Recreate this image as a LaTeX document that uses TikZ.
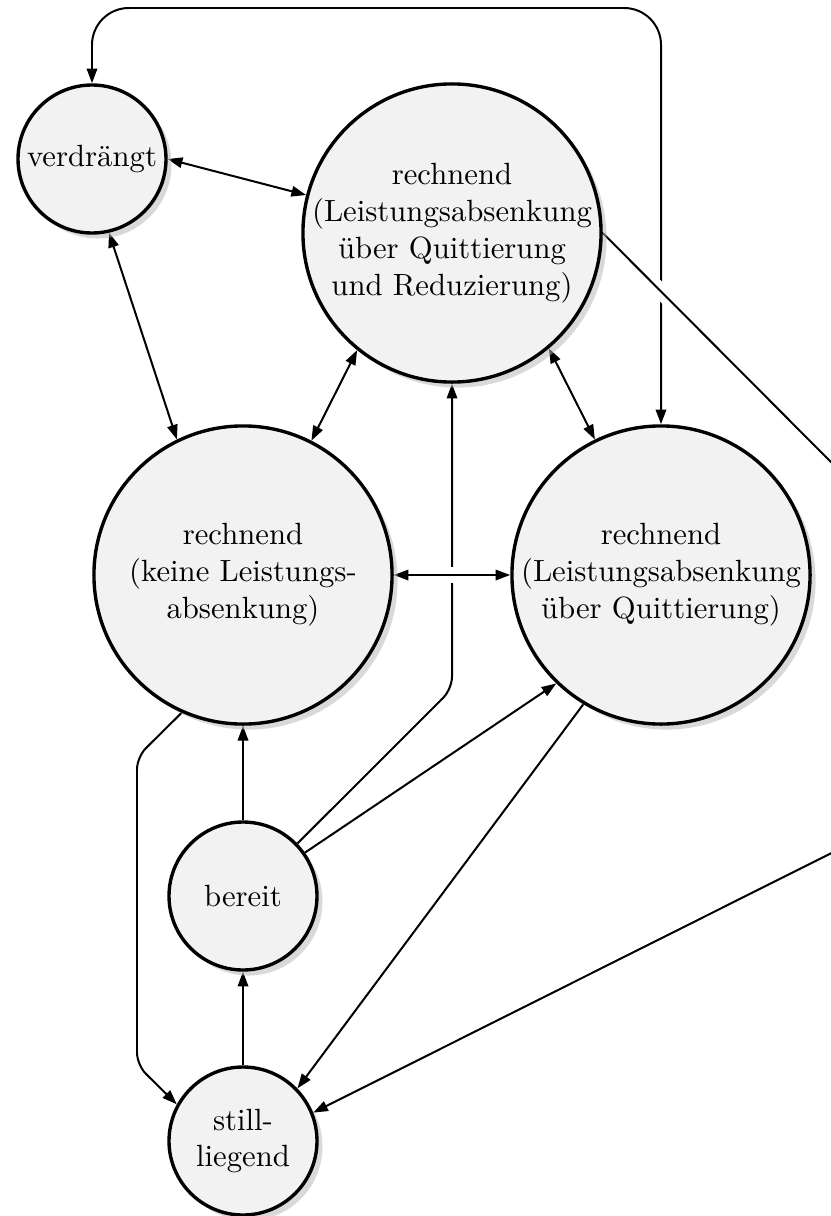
\documentclass[tikz,border=0pt]{standalone}
\usetikzlibrary{arrows.meta,shadows,backgrounds}
\definecolor{cfill}{HTML}{F2F2F2}
\definecolor{cshadow}{HTML}{B4B4B4}
\begin{document}
\begin{tikzpicture}[x=0.3257pt,y=-0.3257pt,
  >={Triangle[length=4.8pt,width=3.4pt]},
  conn/.style={line width=0.65pt,draw=black},
  halo/.style={preaction={draw=white,line width=5pt,-}},
  stbig/.style={circle,draw=black,line width=1.1pt,fill=cfill,minimum size=97.1pt,inner sep=0pt,
    drop shadow={shadow xshift=1.8pt,shadow yshift=-1.8pt,fill=cshadow}},
  stsmall/.style={stbig,minimum size=48.2pt},
  lbl/.style={align=center,font=\fontsize{10}{12}\selectfont,inner sep=0pt}
]
\useasboundingbox (0,0) rectangle (831,1216);
\node[stsmall,label={[lbl]center:verdrängt}] (V) at (92,159) {};
\node[stbig,label={[lbl]center:{rechnend\\(Leistungsabsenkung\\über Quittierung\\und Reduzierung)}}] (T) at (452,233) {};
\node[stbig,label={[lbl]center:{rechnend\\(keine Leistungs-\\absenkung)}}] (L) at (243,575) {};
\node[stbig,label={[lbl]center:{rechnend\\(Leistungsabsenkung\\über Quittierung)}}] (R) at (661,575) {};
\node[stsmall,label={[lbl]center:bereit}] (B) at (243,896) {};
\node[stsmall,label={[lbl]center:{still-\\liegend}}] (S) at (243,1141) {};
\coordinate (c1) at (92,8);
\coordinate (c2) at (661,8);
\coordinate (c3) at (452,689);
\coordinate (c4) at (137,757);
\coordinate (c5) at (137,1065);
\coordinate (c6) at (1091,723);
\begin{pgfonlayer}{background}
\begin{scope}
\clip (0,0) rectangle (831,1216);
\draw[conn,<->,rounded corners=12pt] (V.north) -- (c1) -- (c2) -- (R.north);
\draw[conn,->,rounded corners=4pt] (B.44) -- (c3) -- (T.south);
\draw[conn,<->] (V.east) -- (T);
\draw[conn,<->] (V.-77) -- (L.116);
\draw[conn,<->] (T.231) -- (L.63);
\draw[conn,<->] (T.-50) -- (R.116);
\draw[conn,->] (B.north) -- (L.south);
\draw[conn,->] (S.north) -- (B.south);
\draw[conn,->] (B.35) -- (R.226);
\draw[conn,->] (R.239) -- (S.44);
\draw[conn,->,rounded corners=4pt] (L.246) -- (c4) -- (c5) -- (S.151);
\draw[conn,<->,halo] (L.east) -- (R.west);
\draw[conn,->,halo] (T.east) -- (c6) -- (S.22);
\end{scope}
\end{pgfonlayer}
\end{tikzpicture}
\end{document}
